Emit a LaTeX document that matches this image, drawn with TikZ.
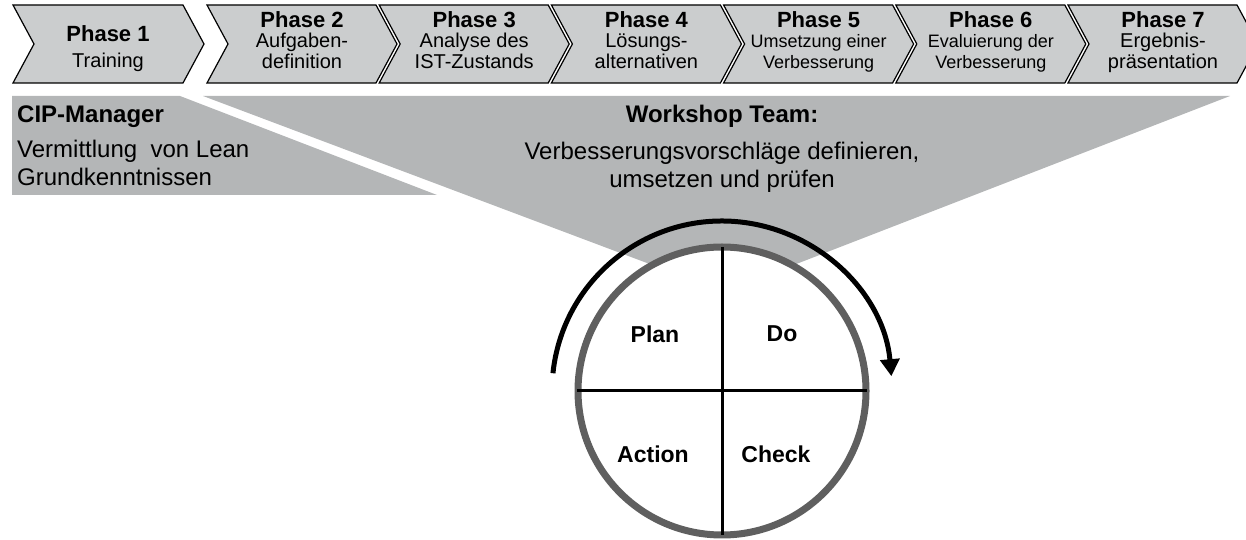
\documentclass[tikz,border=0pt]{standalone}
\usepackage{fontspec}
\setmainfont{Liberation Sans}
\usetikzlibrary{arrows.meta}
\definecolor{chevgray}{HTML}{CBCDCE}
\definecolor{bandgray}{HTML}{B4B6B7}
\definecolor{ringgray}{HTML}{5F5F5F}
\tikzset{
  chev/.style={fill=chevgray, draw=black, line width=1.2pt, line join=miter},
  band/.style={fill=bandgray},
  ptitle/.style={font=\fontsize{22}{24}\selectfont\bfseries, anchor=base, inner sep=0pt},
  psub/.style={anchor=base, inner sep=0pt},
  bandtitle/.style={font=\fontsize{24}{26}\selectfont\bfseries, anchor=base, inner sep=0pt},
  bandtext/.style={font=\fontsize{24}{26}\selectfont, anchor=base, inner sep=0pt},
  quad/.style={font=\fontsize{23}{25}\selectfont\bfseries, inner sep=0pt},
}
\begin{document}
\begin{tikzpicture}[x=1pt,y=1pt]
\useasboundingbox (0,0) rectangle (1246,540);

% grey bands below the phase row
\fill[band] (203,444) -- (1230,444) -- (724,248) -- cycle;
\fill[band] (12,444) -- (180,444) -- (437,345) -- (12,345) -- cycle;

% phase 1 chevron
\draw[chev] (13,535) -- (183,535) -- (204,496) -- (183,457) -- (13,457) -- (34,496) -- cycle;
\node[ptitle] (t1) at (108,498) {Phase 1};
\node[psub, font=\fontsize{20}{22}\selectfont] (a1) at (108,472) {Training};

% phases 2 to 7
\foreach \k/\tit/\la/\lb/\sz [count=\i from 2] in {
  0/Phase 2/Aufgaben-/definition/20,
  1/Phase 3/Analyse des/IST-Zustands/20,
  2/Phase 4/Lösungs-/alternativen/20,
  3/Phase 5/Umsetzung einer/Verbesserung/18,
  4/Phase 6/Evaluierung der/Verbesserung/18,
  5/Phase 7/Ergebnis-/präsentation/20}{
  \pgfmathsetmacro\xa{207+172.2*\k}
  \draw[chev] (\xa,535) -- ++(169,0) -- ++(21,-39) -- ++(-21,-39) -- ++(-169,0) -- ++(21,39) -- cycle;
  \node[ptitle] (t\i) at (\xa+95,512) {\tit};
  \node[psub, font=\fontsize{\sz}{\sz}\selectfont] (a\i) at (\xa+95,492) {\la};
  \node[psub, font=\fontsize{\sz}{\sz}\selectfont] (b\i) at (\xa+95,471) {\lb};
}

% band texts
\node[bandtitle, anchor=base west] (cip) at (17,417) {CIP-Manager};
\node[bandtext, anchor=base west] (cip1) at (17,382) {Vermittlung\ \ von Lean};
\node[bandtext, anchor=base west] (cip2) at (17,354) {Grundkenntnissen};
\node[bandtitle] (ws) at (722,417) {Workshop Team:};
\node[bandtext] (ws1) at (722,380) {Verbesserungsvorschläge definieren,};
\node[bandtext] (ws2) at (722,352) {umsetzen und prüfen};

% PDCA circle
\coordinate (c) at (722,149);
\fill[white] (c) circle[radius=144];
\draw[ringgray, line width=7pt] (c) circle[radius=144];
\draw[black, line width=3pt] (722,293) -- (722,5);
\draw[black, line width=3pt] (577,149) -- (867,149);
\node[quad] (plan) at (655,206) {Plan};
\node[quad] (do) at (782,206) {Do};
\node[quad] (act) at (653,86) {Action};
\node[quad] (chk) at (776,86) {Check};

% cycle arrow
\draw[line width=5pt, -{Triangle[length=17pt,width=19pt]}] (c) ++(174:170) arc[start angle=174, end angle=5, radius=170];
\end{tikzpicture}
\end{document}
